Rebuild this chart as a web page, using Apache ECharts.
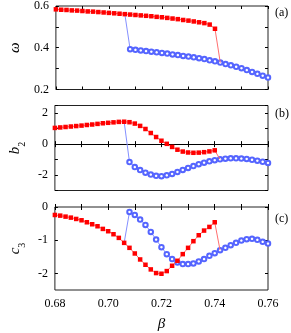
<!DOCTYPE html>
<html><head><meta charset="utf-8">
<script src="https://cdn.jsdelivr.net/npm/echarts@6/dist/echarts.min.js"></script>
<style>html,body{margin:0;padding:0;background:#fff}#c{width:291px;height:333px}</style>
</head><body><div id="c"></div>
<script>
const betaRed = [0.680,0.682,0.684,0.686,0.688,0.690,0.692,0.694,0.696,0.698,0.700,0.702,0.704,0.706,0.708,0.710,0.712,0.714,0.716,0.718,0.720,0.722,0.724,0.726,0.728,0.730,0.732,0.734,0.736,0.738,0.740];
const betaBlue = [0.708,0.710,0.712,0.714,0.716,0.718,0.720,0.722,0.724,0.726,0.728,0.730,0.732,0.734,0.736,0.738,0.740,0.742,0.744,0.746,0.748,0.750,0.752,0.754,0.756,0.758,0.760];

const omegaRed = [0.584,0.582,0.581,0.579,0.578,0.576,0.574,0.573,0.571,0.569,0.567,0.565,0.563,0.561,0.559,0.557,0.555,0.553,0.551,0.548,0.546,0.543,0.540,0.537,0.533,0.530,0.526,0.522,0.518,0.511,0.491];
const omegaBlue = [0.393,0.390,0.387,0.384,0.381,0.378,0.375,0.372,0.368,0.365,0.361,0.358,0.354,0.350,0.346,0.340,0.335,0.329,0.322,0.316,0.309,0.302,0.293,0.284,0.275,0.266,0.257];

const b2Red = [1.05,1.08,1.11,1.14,1.17,1.20,1.24,1.27,1.31,1.35,1.38,1.41,1.44,1.45,1.42,1.33,1.18,0.98,0.72,0.46,0.22,0.02,-0.18,-0.36,-0.48,-0.54,-0.56,-0.55,-0.52,-0.47,-0.40];
const b2Blue = [-1.16,-1.48,-1.68,-1.85,-1.97,-2.05,-2.07,-2.02,-1.93,-1.80,-1.67,-1.54,-1.42,-1.30,-1.20,-1.11,-1.04,-0.98,-0.94,-0.92,-0.92,-0.93,-0.96,-1.01,-1.07,-1.14,-1.22];

const c3Red = [-0.24,-0.26,-0.29,-0.32,-0.36,-0.40,-0.46,-0.52,-0.58,-0.66,-0.73,-0.82,-0.93,-1.08,-1.23,-1.40,-1.58,-1.74,-1.88,-1.99,-2.01,-1.93,-1.77,-1.62,-1.42,-1.23,-1.03,-0.85,-0.71,-0.60,-0.46];
const c3Blue = [-0.15,-0.24,-0.38,-0.54,-0.75,-0.98,-1.21,-1.42,-1.57,-1.67,-1.72,-1.72,-1.70,-1.64,-1.57,-1.47,-1.39,-1.30,-1.23,-1.15,-1.08,-1.01,-0.97,-0.96,-0.99,-1.05,-1.10];

const xTickLabels = ['0.68','0.70','0.72','0.74','0.76'];
const panelLabels = ['(a)','(b)','(c)'];

const jumpUp = 0.706;   // red -> blue branch start
const jumpDown = 0.742; // red branch ends into blue

const SERIF = 'Liberation Serif';
const RED = '#ff0000', REDLINE = '#ff6f6f', BLUE = '#5565ff', BLUELINE = '#8490ff';

function blueData(ry, by) {
  const i = betaRed.indexOf(jumpUp);
  const d = [{ value: [jumpUp, ry[i]], symbol: 'none' }];
  betaBlue.forEach((b, k) => d.push([b, by[k]]));
  return d;
}
function redData(ry, by) {
  const d = betaRed.map((b, k) => [b, ry[k]]);
  const j = betaBlue.indexOf(jumpDown);
  d.push({ value: [jumpDown, by[j]], symbol: 'none' });
  return d;
}

const grids = [
  { left: 44, right: 23, top: 5.5, height: 84 },
  { left: 44, right: 23, top: 105.5, height: 85 },
  { left: 44, right: 23, top: 207, height: 84.5 }
];

const yCfg = [
  { min: 0.2, max: 0.6, interval: 0.1, fmt: v => (Math.round(v * 10) % 2 === 0 ? v.toFixed(1) : '') ,
    name: '{i|ω}' },
  { min: -3, max: 2.5, interval: 1, fmt: v => (Math.round(v) % 2 === 0 ? String(Math.round(v)) : ''),
    name: '{i|b}{s|2}' },
  { min: -2.5, max: 0, interval: 0.5, fmt: v => (Math.abs(v - Math.round(v)) < 1e-6 ? String(Math.round(v)) : ''),
    name: '{i|c}{s|3}', custom: [0, -1, -2] }
];

const richName = {
  i: { fontFamily: SERIF, fontStyle: 'italic', fontSize: 15, color: '#000', lineHeight: 18, verticalAlign: 'bottom' },
  s: { fontFamily: SERIF, fontSize: 10, color: '#000', lineHeight: 18, verticalAlign: 'bottom', padding: [0, 0, -4, 0] }
};

const xAxis = [], yAxis = [];
grids.forEach((g, i) => {
  xAxis.push({
    type: 'value', gridIndex: i, min: 0.68, max: 0.76, interval: 0.01,
    axisLine: { show: false },
    axisTick: { inside: true, length: 3, lineStyle: { color: '#000' } },
    splitLine: { show: false },
    axisLabel: {
      show: i === 2, margin: 8, fontFamily: SERIF, fontSize: 12, color: '#000',
      formatter: v => { const s = v.toFixed(2); return xTickLabels.includes(s) ? s : ''; }
    },
    name: i === 2 ? 'β' : '', nameLocation: 'middle', nameGap: 27,
    nameTextStyle: { fontFamily: SERIF, fontStyle: 'italic', fontSize: 15, color: '#000' }
  });
  xAxis.push({
    type: 'value', gridIndex: i, position: 'top', min: 0.68, max: 0.76, interval: 0.01,
    axisLine: { show: false }, axisLabel: { show: false }, splitLine: { show: false },
    axisTick: { inside: true, length: 3, lineStyle: { color: '#000' } }
  });
  const c = yCfg[i];
  const tick = { inside: true, length: 3, lineStyle: { color: '#000' } };
  if (c.custom) tick.customValues = c.custom;
  const lab = { margin: 7, fontFamily: SERIF, fontSize: 12, color: '#000', formatter: c.fmt };
  if (c.custom) lab.customValues = c.custom;
  yAxis.push({
    type: 'value', gridIndex: i, min: c.min, max: c.max, interval: c.interval,
    axisLine: { show: false }, splitLine: { show: false },
    axisTick: tick, axisLabel: lab,
    name: c.name, nameLocation: 'middle', nameRotate: 90, nameGap: 30,
    nameTextStyle: { rich: richName }
  });
  yAxis.push({
    type: 'value', gridIndex: i, position: 'right', min: c.min, max: c.max, interval: c.interval,
    axisLine: { show: false }, splitLine: { show: false }, axisLabel: { show: false },
    axisTick: Object.assign({}, tick)
  });
});

const sets = [[omegaRed, omegaBlue], [b2Red, b2Blue], [c3Red, c3Blue]];
const series = [];
sets.forEach(([r, b], i) => {
  const blue = {
    type: 'line', xAxisIndex: 2 * i, yAxisIndex: 2 * i, data: blueData(r, b),
    symbol: 'emptyCircle', symbolSize: 4.5,
    itemStyle: { color: BLUE, borderWidth: 0.9 },
    lineStyle: { color: BLUELINE, width: 1 }, z: 3
  };
  if (i === 1) {
    blue.markLine = {
      silent: true, symbol: ['none', 'none'], label: { show: false },
      lineStyle: { color: '#000', width: 1, type: 'solid' },
      data: [{ yAxis: 0 }], z: 1
    };
  }
  series.push(blue);
  series.push({
    type: 'line', xAxisIndex: 2 * i, yAxisIndex: 2 * i, data: redData(r, b),
    symbol: 'rect', symbolSize: 4.5,
    itemStyle: { color: RED },
    lineStyle: { color: REDLINE, width: 1 }, z: 4
  });
});

const labelTops = [7, 108, 213];
const graphic = panelLabels.map((t, i) => ({
  type: 'text', left: 275, top: labelTops[i],
  style: { text: t, font: '12px "' + SERIF + '"', fill: '#000' }
}));

const chart = echarts.init(document.getElementById('c'), null, { renderer: 'canvas' });
chart.setOption({
  animation: false,
  backgroundColor: '#fff',
  grid: grids.map(g => Object.assign({ show: true, borderColor: '#222', borderWidth: 1, backgroundColor: 'transparent' }, g)),
  xAxis, yAxis, series, graphic
});
</script>
</body></html>
